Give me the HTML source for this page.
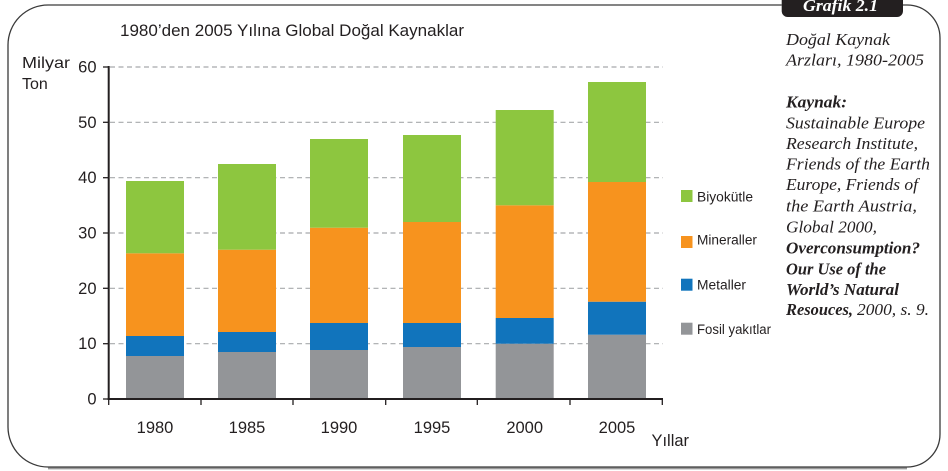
<!DOCTYPE html>
<html>
<head>
<meta charset="utf-8">
<style>
html,body{margin:0;padding:0;background:#fff;}
body{width:948px;height:471px;overflow:hidden;}
svg{display:block;}
.sans{font-family:"Liberation Sans",sans-serif;fill:#231f20;}
.serif{font-family:"Liberation Serif",serif;font-style:italic;fill:#231f20;}
</style>
</head>
<body>
<svg width="948" height="471" viewBox="0 0 948 471" xmlns="http://www.w3.org/2000/svg">
  <!-- frame shadow -->
  <path d="M48 468.3 L907 468.3" stroke="#9a9a9a" stroke-width="2.2" fill="none"/>
  <!-- frame -->
  <path d="M781.7 5 L48 5 A40 40 0 0 0 8 45 L8 427 A40 40 0 0 0 48 467 L907 467 A33 33 0 0 0 940 434 L940 38 A33 33 0 0 0 907 5 L903 5" stroke="#3a3a3a" stroke-width="1.3" fill="none"/>
  <!-- tab -->
  <path d="M781.7 0 L781.7 11 A6 6 0 0 0 787.7 17 L897 17 A6 6 0 0 0 903 11 L903 0 Z" fill="#231f20"/>
  <text x="803" y="11" font-family="Liberation Serif, serif" font-style="italic" font-weight="bold" font-size="17" fill="#fff" textLength="75" lengthAdjust="spacingAndGlyphs">Grafik 2.1</text>

  <!-- title -->
  <text class="sans" x="120" y="36" font-size="17" textLength="344" lengthAdjust="spacingAndGlyphs">1980’den 2005 Yılına Global Doğal Kaynaklar</text>
  <text class="sans" x="22" y="68" font-size="16" textLength="48" lengthAdjust="spacingAndGlyphs">Milyar</text>
  <text class="sans" x="22" y="89" font-size="16">Ton</text>

  <!-- gridlines -->
  <g stroke="#a7a9ac" stroke-width="1.2" stroke-dasharray="5,3.5" fill="none">
    <line x1="110" y1="67" x2="663" y2="67"/>
    <line x1="110" y1="122.3" x2="663" y2="122.3"/>
    <line x1="110" y1="177.7" x2="663" y2="177.7"/>
    <line x1="110" y1="233" x2="663" y2="233"/>
    <line x1="110" y1="288.3" x2="663" y2="288.3"/>
    <line x1="110" y1="343.7" x2="663" y2="343.7"/>
  </g>

  <!-- y tick labels -->
  <g class="sans" font-size="16.5" text-anchor="end">
    <text x="96.5" y="72.5">60</text>
    <text x="96.5" y="127.8">50</text>
    <text x="96.5" y="183.2">40</text>
    <text x="96.5" y="238.5">30</text>
    <text x="96.5" y="293.8">20</text>
    <text x="96.5" y="349.2">10</text>
    <text x="96.5" y="404.5">0</text>
  </g>

  <!-- bars -->
  <g>
    <!-- 1980 -->
    <rect x="126" y="356" width="58" height="42" fill="#939598"/>
    <rect x="126" y="336" width="58" height="20" fill="#1174bc"/>
    <rect x="126" y="253.3" width="58" height="82.7" fill="#f7931e"/>
    <rect x="126" y="181" width="58" height="72.3" fill="#8dc63f"/>
    <!-- 1985 -->
    <rect x="218" y="352" width="58" height="46" fill="#939598"/>
    <rect x="218" y="332" width="58" height="20" fill="#1174bc"/>
    <rect x="218" y="249.7" width="58" height="82.3" fill="#f7931e"/>
    <rect x="218" y="164" width="58" height="85.7" fill="#8dc63f"/>
    <!-- 1990 -->
    <rect x="310" y="350" width="58" height="48" fill="#939598"/>
    <rect x="310" y="323" width="58" height="27" fill="#1174bc"/>
    <rect x="310" y="227.7" width="58" height="95.3" fill="#f7931e"/>
    <rect x="310" y="139" width="58" height="88.7" fill="#8dc63f"/>
    <!-- 1995 -->
    <rect x="403" y="347" width="58" height="51" fill="#939598"/>
    <rect x="403" y="323" width="58" height="24" fill="#1174bc"/>
    <rect x="403" y="222" width="58" height="101" fill="#f7931e"/>
    <rect x="403" y="135" width="58" height="87" fill="#8dc63f"/>
    <!-- 2000 -->
    <rect x="495.7" y="343.7" width="58" height="54.3" fill="#939598"/>
    <rect x="495.7" y="318" width="58" height="25.7" fill="#1174bc"/>
    <rect x="495.7" y="205.3" width="58" height="112.7" fill="#f7931e"/>
    <rect x="495.7" y="110" width="58" height="95.3" fill="#8dc63f"/>
    <!-- 2005 -->
    <rect x="588" y="334.7" width="58" height="63.3" fill="#939598"/>
    <rect x="588" y="301.7" width="58" height="33" fill="#1174bc"/>
    <rect x="588" y="182" width="58" height="119.7" fill="#f7931e"/>
    <rect x="588" y="82" width="58" height="100" fill="#8dc63f"/>
  </g>

  <!-- axes -->
  <g stroke="#231f20" fill="none">
    <line x1="108.7" y1="66" x2="108.7" y2="400" stroke-width="2"/>
    <line x1="107.7" y1="399" x2="663" y2="399" stroke-width="2"/>
    <g stroke-width="1.3">
      <line x1="103" y1="67" x2="108" y2="67"/>
      <line x1="103" y1="122.3" x2="108" y2="122.3"/>
      <line x1="103" y1="177.7" x2="108" y2="177.7"/>
      <line x1="103" y1="233" x2="108" y2="233"/>
      <line x1="103" y1="288.3" x2="108" y2="288.3"/>
      <line x1="103" y1="343.7" x2="108" y2="343.7"/>
      <line x1="103" y1="399" x2="108" y2="399"/>
      <line x1="108.7" y1="399" x2="108.7" y2="405"/>
      <line x1="201" y1="399" x2="201" y2="405"/>
      <line x1="293" y1="399" x2="293" y2="405"/>
      <line x1="385.7" y1="399" x2="385.7" y2="405"/>
      <line x1="477.3" y1="399" x2="477.3" y2="405"/>
      <line x1="570" y1="399" x2="570" y2="405"/>
      <line x1="662.3" y1="399" x2="662.3" y2="405"/>
    </g>
  </g>

  <!-- x labels -->
  <g class="sans" font-size="16.5" text-anchor="middle">
    <text x="155" y="433">1980</text>
    <text x="247" y="433">1985</text>
    <text x="339" y="433">1990</text>
    <text x="432" y="433">1995</text>
    <text x="524.7" y="433">2000</text>
    <text x="617" y="433">2005</text>
  </g>
  <text class="sans" x="651.5" y="446" font-size="17" textLength="37.5" lengthAdjust="spacingAndGlyphs">Yıllar</text>

  <!-- legend -->
  <rect x="681" y="190" width="11.5" height="12" fill="#8dc63f"/>
  <rect x="681" y="236" width="11.5" height="12" fill="#f7931e"/>
  <rect x="681" y="278.7" width="11.5" height="12" fill="#1174bc"/>
  <rect x="681" y="322.7" width="11.5" height="12" fill="#939598"/>
  <g class="sans" font-size="13.5">
    <text x="697" y="201.3" textLength="56" lengthAdjust="spacingAndGlyphs">Biyokütle</text>
    <text x="697" y="244.5" textLength="60" lengthAdjust="spacingAndGlyphs">Mineraller</text>
    <text x="697" y="289.5" textLength="49" lengthAdjust="spacingAndGlyphs">Metaller</text>
    <text x="697" y="334" textLength="74" lengthAdjust="spacingAndGlyphs">Fosil yakıtlar</text>
  </g>

  <!-- right text -->
  <g class="serif" font-size="16.5">
    <text x="786" y="45" textLength="104" lengthAdjust="spacingAndGlyphs">Doğal Kaynak</text>
    <text x="786" y="65.5" textLength="138" lengthAdjust="spacingAndGlyphs">Arzları, 1980-2005</text>
    <text x="786" y="107.5" font-weight="bold" textLength="61" lengthAdjust="spacingAndGlyphs">Kaynak:</text>
    <text x="786" y="128.3" textLength="139" lengthAdjust="spacingAndGlyphs">Sustainable Europe</text>
    <text x="786" y="149" textLength="132" lengthAdjust="spacingAndGlyphs">Research Institute,</text>
    <text x="786" y="169.5" textLength="144" lengthAdjust="spacingAndGlyphs">Friends of the Earth</text>
    <text x="786" y="190" textLength="132" lengthAdjust="spacingAndGlyphs">Europe, Friends of</text>
    <text x="786" y="211.5" textLength="131" lengthAdjust="spacingAndGlyphs">the Earth Austria,</text>
    <text x="786" y="232.3" textLength="91" lengthAdjust="spacingAndGlyphs">Global 2000,</text>
    <text x="786" y="253.3" font-weight="bold" textLength="134" lengthAdjust="spacingAndGlyphs">Overconsumption?</text>
    <text x="786" y="274.3" font-weight="bold" textLength="100" lengthAdjust="spacingAndGlyphs">Our Use of the</text>
    <text x="786" y="295" font-weight="bold" textLength="113" lengthAdjust="spacingAndGlyphs">World’s Natural</text>
    <text x="786" y="315" font-weight="bold" textLength="67" lengthAdjust="spacingAndGlyphs">Resouces,</text>
    <text x="857" y="315" textLength="72" lengthAdjust="spacingAndGlyphs">2000, s. 9.</text>
  </g>
</svg>
</body>
</html>
